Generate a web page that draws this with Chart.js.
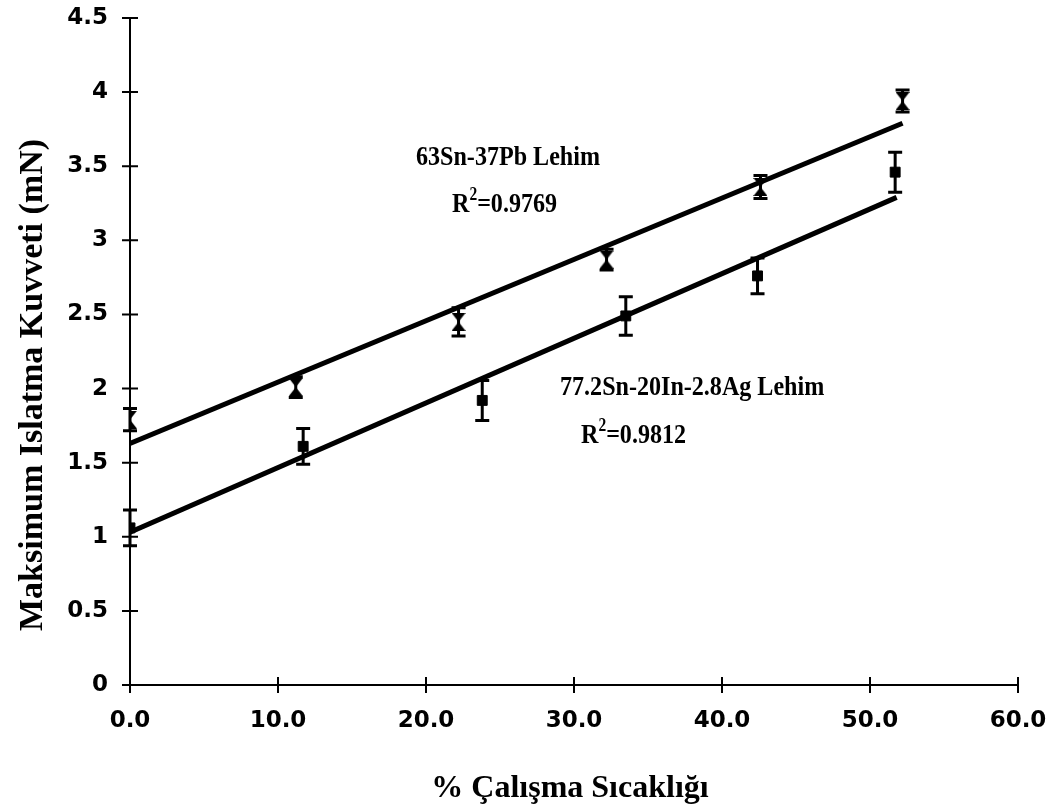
<!DOCTYPE html>
<html>
<head>
<meta charset="utf-8">
<script src="https://cdn.jsdelivr.net/npm/chart.js@4"></script>
<style>
  html, body { margin: 0; padding: 0; background: #fff; }
  #wrap { width: 1058px; height: 809px; }
</style>
</head>
<body>
<div id="wrap"><canvas id="chart" width="1058" height="809"></canvas></div>
<script>
// 63Sn-37Pb
const xA = [0, 11.2, 22.2, 32.2, 42.6, 52.2];
const yA = [1.79, 2.01, 2.45, 2.87, 3.36, 3.94];
const errA = [0.075, 0.07, 0.095, 0.07, 0.078, 0.075];
const fitAx = [0, 52.2];
const fitAy = [1.63, 3.79];

// 77.2Sn-20In-2.8Ag
const xB = [0, 11.7, 23.8, 33.5, 42.4, 51.7];
const yB = [1.06, 1.61, 1.92, 2.49, 2.76, 3.46];
const errB = [0.12, 0.12, 0.135, 0.13, 0.12, 0.135];
const fitBx = [0, 51.8];
const fitBy = [1.03, 3.29];

const xTicks = [0, 10, 20, 30, 40, 50, 60];
const yTicks = [0, 0.5, 1, 1.5, 2, 2.5, 3, 3.5, 4, 4.5];

const xTitle = '% Çalışma Sıcaklığı';
const yTitle = 'Maksimum Islatma Kuvveti (mN)';

const pts = (xs, ys) => xs.map((x, i) => ({ x: x, y: ys[i] }));

// hourglass marker
const hg = document.createElement('canvas');
hg.width = 14; hg.height = 18;
const hctx = hg.getContext('2d');
hctx.fillStyle = '#000';
hctx.beginPath();
hctx.moveTo(0, 0); hctx.lineTo(14, 0); hctx.lineTo(7, 9); hctx.closePath();
hctx.moveTo(0, 18); hctx.lineTo(14, 18); hctx.lineTo(7, 9); hctx.closePath();
hctx.fill();

const errorBars = {
  id: 'errorBars',
  afterDatasetsDraw(chart) {
    const { ctx, scales: { x, y } } = chart;
    ctx.save();
    ctx.strokeStyle = '#000';
    ctx.lineWidth = 3;
    chart.data.datasets.forEach(ds => {
      if (!ds.err) return;
      ds.data.forEach((p, i) => {
        const px = x.getPixelForValue(p.x);
        const top = y.getPixelForValue(p.y + ds.err[i]);
        const bot = y.getPixelForValue(p.y - ds.err[i]);
        ctx.beginPath();
        ctx.moveTo(px, top); ctx.lineTo(px, bot);
        ctx.moveTo(px - 7, top); ctx.lineTo(px + 7, top);
        ctx.moveTo(px - 7, bot); ctx.lineTo(px + 7, bot);
        ctx.stroke();
      });
    });
    ctx.restore();
  }
};

const axesAndText = {
  id: 'axesAndText',
  afterDraw(chart) {
    const { ctx, chartArea: a, scales: { x, y } } = chart;
    ctx.save();
    ctx.strokeStyle = '#000';
    ctx.lineWidth = 2;
    ctx.beginPath();
    ctx.moveTo(a.left, a.top); ctx.lineTo(a.left, a.bottom);
    ctx.moveTo(a.left, a.bottom); ctx.lineTo(a.right, a.bottom);
    yTicks.forEach(v => {
      const py = y.getPixelForValue(v);
      ctx.moveTo(a.left - 8, py); ctx.lineTo(a.left + 8, py);
    });
    xTicks.forEach(v => {
      const px = x.getPixelForValue(v);
      ctx.moveTo(px, a.bottom - 8); ctx.lineTo(px, a.bottom + 8);
    });
    ctx.stroke();

    ctx.fillStyle = '#000';
    ctx.textBaseline = 'alphabetic';

    // axis titles
    ctx.font = 'bold 32px "Liberation Serif"';
    ctx.textAlign = 'center';
    ctx.fillText(xTitle, 570, 797);
    ctx.save();
    ctx.translate(42, 385);
    ctx.rotate(-Math.PI / 2);
    ctx.font = 'bold 34px "Liberation Serif"';
    ctx.fillText(yTitle, 0, 0);
    ctx.restore();

    // annotations (slightly condensed serif)
    ctx.textAlign = 'left';
    const sx = 0.86;
    function label(txt, x0, y0) {
      ctx.save();
      ctx.translate(x0, y0);
      ctx.scale(sx, 1);
      ctx.font = 'bold 28px "Liberation Serif"';
      ctx.fillText(txt, 0, 0);
      ctx.restore();
    }
    function rsq(txt, x0, y0) {
      ctx.save();
      ctx.translate(x0, y0);
      ctx.scale(sx, 1);
      ctx.font = 'bold 28px "Liberation Serif"';
      ctx.fillText('R', 0, 0);
      let w = ctx.measureText('R').width;
      ctx.font = 'bold 18px "Liberation Serif"';
      ctx.fillText('2', w, -12);
      w += ctx.measureText('2').width;
      ctx.font = 'bold 28px "Liberation Serif"';
      ctx.fillText(txt, w, 0);
      ctx.restore();
    }
    label('63Sn-37Pb Lehim', 416, 165);
    rsq('=0.9769', 452, 212);
    label('77.2Sn-20In-2.8Ag Lehim', 560, 395);
    rsq('=0.9812', 581, 443);
    ctx.restore();
  }
};

new Chart(document.getElementById('chart'), {
  type: 'scatter',
  data: {
    datasets: [
      {
        label: '63Sn-37Pb',
        data: pts(xA, yA),
        err: errA,
        pointStyle: hg,
        pointRadius: 8,
        backgroundColor: '#000',
        borderColor: '#000'
      },
      {
        label: '77.2Sn-20In-2.8Ag',
        data: pts(xB, yB),
        err: errB,
        pointStyle: 'rect',
        pointRadius: 7,
        backgroundColor: '#000',
        borderColor: '#000'
      },
      {
        type: 'line',
        data: pts(fitAx, fitAy),
        borderColor: '#000',
        borderWidth: 5,
        pointRadius: 0,
        fill: false
      },
      {
        type: 'line',
        data: pts(fitBx, fitBy),
        borderColor: '#000',
        borderWidth: 5,
        pointRadius: 0,
        fill: false
      }
    ]
  },
  options: {
    responsive: false,
    animation: false,
    layout: { padding: { top: 18, right: 40, left: 0, bottom: 0 } },
    plugins: {
      legend: { display: false },
      tooltip: { enabled: false }
    },
    scales: {
      x: {
        type: 'linear',
        min: 0,
        max: 60,
        afterFit: s => { s.height = 124; s.paddingLeft = 0; s.paddingRight = 0; },
        afterBuildTicks: s => { s.ticks = xTicks.map(v => ({ value: v })); },
        grid: { display: false, drawTicks: false },
        border: { display: false },
        ticks: {
          padding: 22,
          color: '#000',
          font: { family: 'DejaVu Sans', weight: 'bold', size: 23 },
          callback: v => v.toFixed(1)
        }
      },
      y: {
        min: 0,
        max: 4.5,
        afterFit: s => { s.width = 130; s.paddingTop = 0; s.paddingBottom = 0; },
        afterBuildTicks: s => { s.ticks = yTicks.map(v => ({ value: v })); },
        grid: { display: false, drawTicks: false },
        border: { display: false },
        ticks: {
          padding: 22,
          color: '#000',
          font: { family: 'DejaVu Sans', weight: 'bold', size: 23 },
          callback: v => String(v)
        }
      }
    }
  },
  plugins: [errorBars, axesAndText]
});
</script>
</body>
</html>
